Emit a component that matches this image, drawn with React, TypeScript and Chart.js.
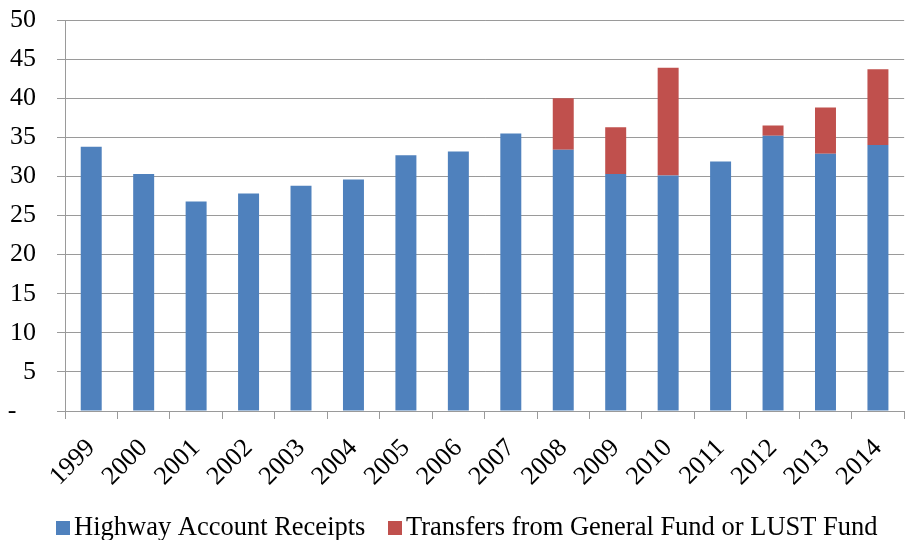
import React, { useEffect, useRef } from "react";
import { Chart, registerables } from "chart.js";

Chart.register(...registerables);

const years = ["1999", "2000", "2001", "2002", "2003", "2004", "2005", "2006", "2007", "2008", "2009", "2010", "2011", "2012", "2013", "2014"];
const highwayReceipts = [33.8, 30.3, 26.8, 27.8, 28.8, 29.6, 32.7, 33.2, 35.5, 33.4, 30.3, 30.1, 31.9, 35.2, 32.9, 34.0];
const transfers = [null, null, null, null, null, null, null, null, null, 6.6, 6.0, 13.8, null, 1.3, 5.9, 9.7];
const seriesNames = ["Highway Account Receipts", "Transfers from General Fund or LUST Fund"];
const seriesColors = ["#4F81BD", "#C0504D"];

const FONT = "'Liberation Serif', 'Times New Roman', serif";
const GRID = "#9a9a9a";

const legendPlugin = {
  id: "excelLegend",
  afterDraw(chart: any) {
    const ctx = chart.ctx;
    ctx.save();
    ctx.font = `26.5px ${FONT}`;
    ctx.textBaseline = "alphabetic";
    const box = 14;
    const gapText = 4;
    const itemStarts = [56, 388];
    const baseY = 535;
    for (let i = 0; i < 2; i++) {
      const x = itemStarts[i];
      ctx.fillStyle = seriesColors[i];
      ctx.fillRect(x, baseY - box, box, box);
      ctx.fillStyle = "#000";
      ctx.fillText(seriesNames[i], x + box + gapText, baseY);
    }
    ctx.restore();
  },
};

export default function App() {
  const ref = useRef<HTMLCanvasElement | null>(null);
  useEffect(() => {
    if (!ref.current) return;
    const chart = new Chart(ref.current, {
      type: "bar",
      data: {
        labels: years,
        datasets: [
          {
            label: seriesNames[0],
            data: highwayReceipts,
            backgroundColor: seriesColors[0],
            borderWidth: 0,
            barPercentage: 0.4,
            categoryPercentage: 1,
          },
          {
            label: seriesNames[1],
            data: transfers as any,
            backgroundColor: seriesColors[1],
            borderWidth: 0,
            barPercentage: 0.4,
            categoryPercentage: 1,
          },
        ],
      },
      options: {
        animation: false,
        responsive: false,
        devicePixelRatio: 1,
        layout: { padding: { top: 20, left: 0, right: 0, bottom: 0 } },
        plugins: {
          legend: { display: false },
          tooltip: { enabled: false },
        },
        scales: {
          x: {
            stacked: true,
            offset: true,
            grid: {
              offset: true,
              drawOnChartArea: false,
              drawTicks: true,
              tickLength: 8,
              color: GRID,
            },
            border: { display: true, color: GRID },
            ticks: {
              minRotation: 45,
              maxRotation: 45,
              autoSkip: false,
              padding: 14,
              color: "#000",
              font: { family: FONT, size: 26 },
            },
            afterFit: (scale: any) => {
              scale.height = 129;
            },
          },
          y: {
            stacked: true,
            min: 0,
            max: 50,
            grid: {
              color: GRID,
              drawTicks: true,
              tickLength: 8,
            },
            border: { display: true, color: GRID },
            ticks: {
              stepSize: 5,
              padding: 21,
              color: "#000",
              font: { family: FONT, size: 26 },
              callback: (v: any) => (Number(v) === 0 ? "-   " : String(v)),
            },
            afterFit: (scale: any) => {
              scale.width = 65;
              scale.paddingTop = 16;
              scale.paddingBottom = 16;
            },
          },
        },
      },
      plugins: [legendPlugin],
    });
    return () => chart.destroy();
  }, []);
  return (
    <div style={{ position: "absolute", left: 0, top: 0, width: 906, height: 540, overflow: "hidden", background: "#fff" }}>
      <canvas ref={ref} width={914} height={540} style={{ display: "block" }} />
    </div>
  );
}
